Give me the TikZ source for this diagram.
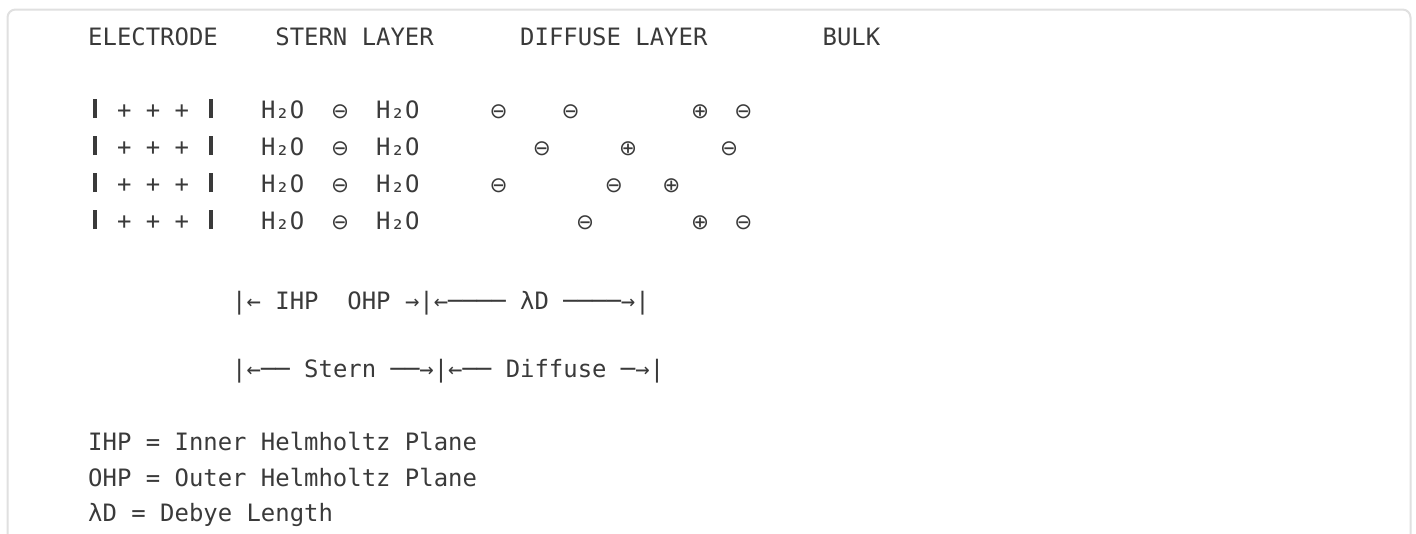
\documentclass[tikz,border=0pt]{standalone}
\usepackage{fontspec}
\setmonofont{DejaVu Sans Mono}
\newfontfamily\opsfont{DejaVu Sans}

\definecolor{ink}{HTML}{3A3A3A}
\definecolor{panelrule}{HTML}{E0E0E0}

% one character cell of the monospaced grid
\newlength\cellw
\setlength\cellw{14.4pt}
\newcommand\gap[1]{\hspace*{#1\cellw}}
% heavy electrode wall, charged species, each filling one cell
\newcommand\ewall{\makebox[\cellw][c]{\rule{4pt}{19pt}}}
\newcommand\ionglyph[1]{\makebox[\cellw][c]{\opsfont\fontsize{21.5pt}{21.5pt}\selectfont #1}}
\newcommand\anion{\ionglyph{⊖}}
\newcommand\cation{\ionglyph{⊕}}
\newcommand\water{H₂O}

\tikzset{
  line/.style={anchor=base west, inner sep=0pt, text=ink,
    font=\ttfamily\fontsize{23.92pt}{28pt}\selectfont},
}

\begin{document}
\begin{tikzpicture}[x=1pt,y=1pt]
\useasboundingbox (0,0) rectangle (1416,-533);
\fill[white] (0,0) rectangle (1416,-533);
\begin{scope}
  \clip (0,0) rectangle (1416,-533);
  \draw[panelrule, line width=2pt, rounded corners=8pt]
    (7.5,-9.5) rectangle (1410.5,-600);
\end{scope}

% column headings
\node[line] (head) at (88,-45.5)
  {ELECTRODE\gap{4}STERN LAYER\gap{6}DIFFUSE LAYER\gap{8}BULK};

% electrode, Stern layer and diffuse layer, one row per line
\node[line] (row1) at (88,-118)
  {\ewall\gap{1}+\gap{1}+\gap{1}+\gap{1}\ewall\gap{3}\water\gap{2}\anion\gap{2}\water\gap{5}\anion\gap{4}\anion\gap{8}\cation\gap{2}\anion};
\node[line] (row2) at (88,-155)
  {\ewall\gap{1}+\gap{1}+\gap{1}+\gap{1}\ewall\gap{3}\water\gap{2}\anion\gap{2}\water\gap{8}\anion\gap{5}\cation\gap{6}\anion};
\node[line] (row3) at (88,-192)
  {\ewall\gap{1}+\gap{1}+\gap{1}+\gap{1}\ewall\gap{3}\water\gap{2}\anion\gap{2}\water\gap{5}\anion\gap{7}\anion\gap{3}\cation};
\node[line] (row4) at (88,-229)
  {\ewall\gap{1}+\gap{1}+\gap{1}+\gap{1}\ewall\gap{3}\water\gap{2}\anion\gap{2}\water\gap{11}\anion\gap{7}\cation\gap{2}\anion};

% plane and length markers
\node[line] (planes) at (232,-309)
  {|←\gap{1}IHP\gap{2}OHP\gap{1}→|←────\gap{1}λD\gap{1}────→|};
\node[line] (regions) at (232,-377)
  {|←──\gap{1}Stern\gap{1}──→|←──\gap{1}Diffuse\gap{1}─→|};

% legend
\node[line] (keyihp) at (88,-450.5) {IHP = Inner Helmholtz Plane};
\node[line] (keyohp) at (88,-486) {OHP = Outer Helmholtz Plane};
\node[line] (keydebye) at (88,-521.5) {λD = Debye Length};
\end{tikzpicture}
\end{document}
